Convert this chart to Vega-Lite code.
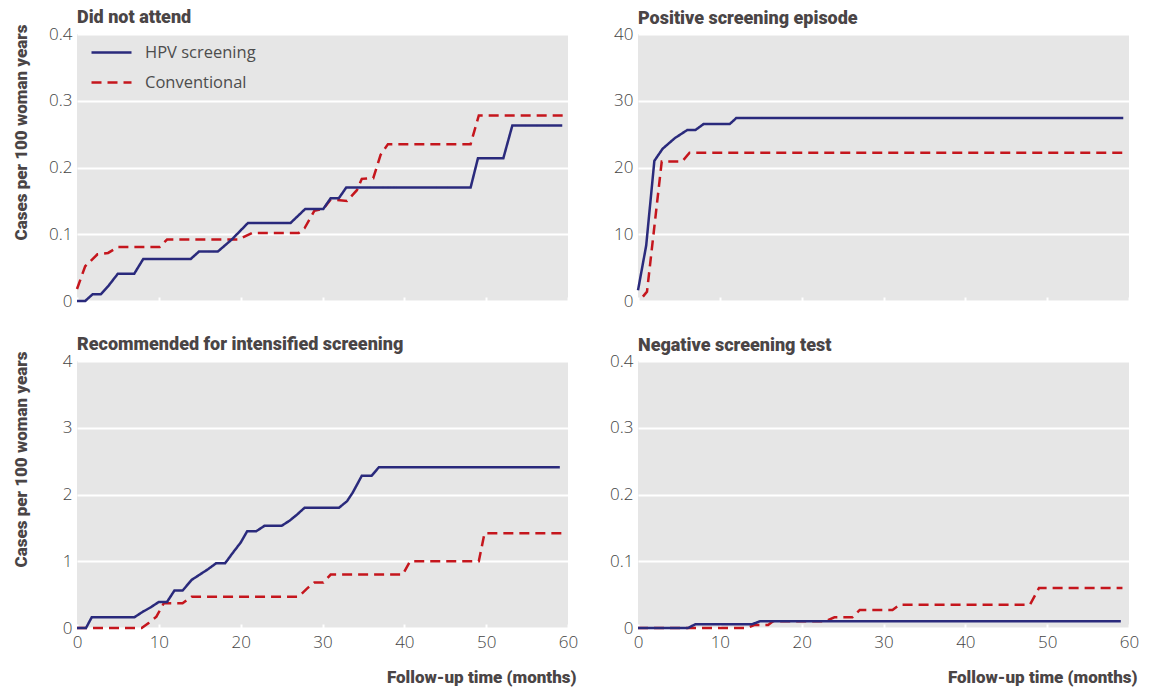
{
  "$schema": "https://vega.github.io/schema/vega-lite/v6.json",
  "padding": {"left": 12, "top": 9, "right": 5, "bottom": 2},
  "background": "white",
  "datasets": {
    "d": [
      {"panel":"dna","group":"Conventional","month":0,"value":0.018},
      {"panel":"dna","group":"Conventional","month":1,"value":0.052},
      {"panel":"dna","group":"Conventional","month":2.5,"value":0.07},
      {"panel":"dna","group":"Conventional","month":3.8,"value":0.072},
      {"panel":"dna","group":"Conventional","month":5,"value":0.081},
      {"panel":"dna","group":"Conventional","month":10.1,"value":0.081},
      {"panel":"dna","group":"Conventional","month":11,"value":0.092},
      {"panel":"dna","group":"Conventional","month":19.7,"value":0.092},
      {"panel":"dna","group":"Conventional","month":21.4,"value":0.102},
      {"panel":"dna","group":"Conventional","month":27.1,"value":0.102},
      {"panel":"dna","group":"Conventional","month":27.8,"value":0.109},
      {"panel":"dna","group":"Conventional","month":29,"value":0.135},
      {"panel":"dna","group":"Conventional","month":30.1,"value":0.138},
      {"panel":"dna","group":"Conventional","month":31,"value":0.152},
      {"panel":"dna","group":"Conventional","month":33,"value":0.15},
      {"panel":"dna","group":"Conventional","month":34.2,"value":0.166},
      {"panel":"dna","group":"Conventional","month":34.8,"value":0.183},
      {"panel":"dna","group":"Conventional","month":36.2,"value":0.184},
      {"panel":"dna","group":"Conventional","month":37.1,"value":0.219},
      {"panel":"dna","group":"Conventional","month":38,"value":0.235},
      {"panel":"dna","group":"Conventional","month":48.1,"value":0.235},
      {"panel":"dna","group":"Conventional","month":49.1,"value":0.278},
      {"panel":"dna","group":"Conventional","month":59.4,"value":0.278},
      {"panel":"dna","group":"HPV screening","month":0,"value":0},
      {"panel":"dna","group":"HPV screening","month":1,"value":0},
      {"panel":"dna","group":"HPV screening","month":1.9,"value":0.01},
      {"panel":"dna","group":"HPV screening","month":2.9,"value":0.01},
      {"panel":"dna","group":"HPV screening","month":3.8,"value":0.022},
      {"panel":"dna","group":"HPV screening","month":5,"value":0.041},
      {"panel":"dna","group":"HPV screening","month":7,"value":0.041},
      {"panel":"dna","group":"HPV screening","month":8.1,"value":0.063},
      {"panel":"dna","group":"HPV screening","month":13.9,"value":0.063},
      {"panel":"dna","group":"HPV screening","month":14.9,"value":0.074},
      {"panel":"dna","group":"HPV screening","month":17.2,"value":0.074},
      {"panel":"dna","group":"HPV screening","month":18.9,"value":0.092},
      {"panel":"dna","group":"HPV screening","month":20.9,"value":0.117},
      {"panel":"dna","group":"HPV screening","month":26.1,"value":0.117},
      {"panel":"dna","group":"HPV screening","month":27.9,"value":0.138},
      {"panel":"dna","group":"HPV screening","month":30.1,"value":0.138},
      {"panel":"dna","group":"HPV screening","month":31,"value":0.154},
      {"panel":"dna","group":"HPV screening","month":32,"value":0.154},
      {"panel":"dna","group":"HPV screening","month":32.9,"value":0.17},
      {"panel":"dna","group":"HPV screening","month":48.1,"value":0.17},
      {"panel":"dna","group":"HPV screening","month":49,"value":0.214},
      {"panel":"dna","group":"HPV screening","month":52.1,"value":0.214},
      {"panel":"dna","group":"HPV screening","month":53.2,"value":0.263},
      {"panel":"dna","group":"HPV screening","month":59.3,"value":0.263},

      {"panel":"pos","group":"Conventional","month":0.6,"value":0.65},
      {"panel":"pos","group":"Conventional","month":1.1,"value":1.4},
      {"panel":"pos","group":"Conventional","month":2.9,"value":20.9},
      {"panel":"pos","group":"Conventional","month":5.4,"value":20.9},
      {"panel":"pos","group":"Conventional","month":6.3,"value":22.2},
      {"panel":"pos","group":"Conventional","month":59.3,"value":22.2},
      {"panel":"pos","group":"HPV screening","month":0,"value":1.6},
      {"panel":"pos","group":"HPV screening","month":1,"value":8.3},
      {"panel":"pos","group":"HPV screening","month":2,"value":21},
      {"panel":"pos","group":"HPV screening","month":3,"value":22.8},
      {"panel":"pos","group":"HPV screening","month":4.5,"value":24.4},
      {"panel":"pos","group":"HPV screening","month":6,"value":25.6},
      {"panel":"pos","group":"HPV screening","month":7,"value":25.6},
      {"panel":"pos","group":"HPV screening","month":8,"value":26.5},
      {"panel":"pos","group":"HPV screening","month":11.2,"value":26.5},
      {"panel":"pos","group":"HPV screening","month":12,"value":27.4},
      {"panel":"pos","group":"HPV screening","month":59.3,"value":27.4},

      {"panel":"int","group":"Conventional","month":0,"value":0},
      {"panel":"int","group":"Conventional","month":7.9,"value":0},
      {"panel":"int","group":"Conventional","month":8.8,"value":0.08},
      {"panel":"int","group":"Conventional","month":9.7,"value":0.17},
      {"panel":"int","group":"Conventional","month":10.6,"value":0.37},
      {"panel":"int","group":"Conventional","month":12.9,"value":0.37},
      {"panel":"int","group":"Conventional","month":14,"value":0.47},
      {"panel":"int","group":"Conventional","month":27.1,"value":0.47},
      {"panel":"int","group":"Conventional","month":28.1,"value":0.59},
      {"panel":"int","group":"Conventional","month":29,"value":0.68},
      {"panel":"int","group":"Conventional","month":30.1,"value":0.68},
      {"panel":"int","group":"Conventional","month":31,"value":0.8},
      {"panel":"int","group":"Conventional","month":39.8,"value":0.8},
      {"panel":"int","group":"Conventional","month":40.7,"value":1.0},
      {"panel":"int","group":"Conventional","month":49.1,"value":1.0},
      {"panel":"int","group":"Conventional","month":49.8,"value":1.42},
      {"panel":"int","group":"Conventional","month":59.4,"value":1.42},
      {"panel":"int","group":"HPV screening","month":0,"value":0},
      {"panel":"int","group":"HPV screening","month":1.1,"value":0},
      {"panel":"int","group":"HPV screening","month":1.8,"value":0.16},
      {"panel":"int","group":"HPV screening","month":7,"value":0.16},
      {"panel":"int","group":"HPV screening","month":8,"value":0.24},
      {"panel":"int","group":"HPV screening","month":9,"value":0.31},
      {"panel":"int","group":"HPV screening","month":10,"value":0.39},
      {"panel":"int","group":"HPV screening","month":11,"value":0.39},
      {"panel":"int","group":"HPV screening","month":11.9,"value":0.56},
      {"panel":"int","group":"HPV screening","month":12.9,"value":0.56},
      {"panel":"int","group":"HPV screening","month":14,"value":0.72},
      {"panel":"int","group":"HPV screening","month":15,"value":0.8},
      {"panel":"int","group":"HPV screening","month":16,"value":0.88},
      {"panel":"int","group":"HPV screening","month":17,"value":0.97},
      {"panel":"int","group":"HPV screening","month":18.1,"value":0.97},
      {"panel":"int","group":"HPV screening","month":19,"value":1.12},
      {"panel":"int","group":"HPV screening","month":20,"value":1.28},
      {"panel":"int","group":"HPV screening","month":20.8,"value":1.45},
      {"panel":"int","group":"HPV screening","month":21.9,"value":1.45},
      {"panel":"int","group":"HPV screening","month":22.9,"value":1.53},
      {"panel":"int","group":"HPV screening","month":25,"value":1.53},
      {"panel":"int","group":"HPV screening","month":26,"value":1.61},
      {"panel":"int","group":"HPV screening","month":26.9,"value":1.7},
      {"panel":"int","group":"HPV screening","month":27.8,"value":1.8},
      {"panel":"int","group":"HPV screening","month":32,"value":1.8},
      {"panel":"int","group":"HPV screening","month":33,"value":1.9},
      {"panel":"int","group":"HPV screening","month":33.7,"value":2.03},
      {"panel":"int","group":"HPV screening","month":34.8,"value":2.28},
      {"panel":"int","group":"HPV screening","month":36,"value":2.28},
      {"panel":"int","group":"HPV screening","month":36.9,"value":2.41},
      {"panel":"int","group":"HPV screening","month":59,"value":2.41},

      {"panel":"neg","group":"Conventional","month":0,"value":0},
      {"panel":"neg","group":"Conventional","month":13.3,"value":0},
      {"panel":"neg","group":"Conventional","month":14.2,"value":0.0045},
      {"panel":"neg","group":"Conventional","month":15.9,"value":0.0045},
      {"panel":"neg","group":"Conventional","month":16.5,"value":0.01},
      {"panel":"neg","group":"Conventional","month":22.9,"value":0.01},
      {"panel":"neg","group":"Conventional","month":24,"value":0.016},
      {"panel":"neg","group":"Conventional","month":26.2,"value":0.016},
      {"panel":"neg","group":"Conventional","month":27.1,"value":0.027},
      {"panel":"neg","group":"Conventional","month":31.1,"value":0.027},
      {"panel":"neg","group":"Conventional","month":32,"value":0.035},
      {"panel":"neg","group":"Conventional","month":47.9,"value":0.035},
      {"panel":"neg","group":"Conventional","month":49,"value":0.06},
      {"panel":"neg","group":"Conventional","month":59.2,"value":0.06},
      {"panel":"neg","group":"HPV screening","month":0,"value":0},
      {"panel":"neg","group":"HPV screening","month":6.1,"value":0},
      {"panel":"neg","group":"HPV screening","month":7,"value":0.0055},
      {"panel":"neg","group":"HPV screening","month":13.9,"value":0.0055},
      {"panel":"neg","group":"HPV screening","month":14.9,"value":0.01},
      {"panel":"neg","group":"HPV screening","month":59,"value":0.01}
    ]
  },
  "data": {"name": "d"},
  "columns": 2,
  "bounds": "flush",
  "spacing": {"row": 60, "column": 70},
  "resolve": {"legend": {"color": "independent", "strokeDash": "independent"}},
  "config": {
    "view": {"fill": "#e6e6e6", "stroke": null},
    "title": {"anchor": "start", "frame": "group", "font": "Roboto", "fontSize": 18, "fontWeight": 900, "color": "#4a4546", "baseline": "alphabetic", "offset": -3},
    "axis": {"domain": false, "labelFont": "Open Sans", "labelFontSize": 17, "labelFontWeight": 300, "labelColor": "#444444", "titleFont": "Roboto", "titleFontSize": 17, "titleFontWeight": 900, "titleColor": "#4a4546"},
    "axisY": {"grid": true, "gridColor": "#ffffff", "gridWidth": 2, "ticks": false, "tickSize": 0, "labelPadding": 5},
    "axisX": {"grid": false, "ticks": true, "tickColor": "#ffffff", "tickSize": -4, "tickWidth": 2, "labelPadding": 10, "labelFlush": false},
    "line": {"strokeWidth": 2.5}
  },
  "concat": [
    {
      "title": "Did not attend",
      "width": 491, "height": 267,
      "transform": [{"filter": "datum.panel === 'dna'"}],
      "mark": {"type": "line"},
      "encoding": {
        "x": {"field": "month", "type": "quantitative", "scale": {"domain": [0, 60]}, "axis": {"values": [0,10,20,30,40,50,60], "labels": false, "title": null}},
        "y": {"field": "value", "type": "quantitative", "scale": {"domain": [0, 0.4]}, "axis": {"values": [0,0.1,0.2,0.3,0.4], "labelExpr": "datum.value === 0 ? '0' : format(datum.value, '.1f')", "title": "Cases per 100 woman years", "titleAngle": 270, "titleX": -64, "titleY": -10, "titleAlign": "right", "titleBaseline": "top"}},
        "color": {"field": "group", "type": "nominal", "scale": {"domain": ["HPV screening", "Conventional"], "range": ["#2a2a7c", "#c5161d"]},
          "legend": {"title": null, "orient": "none", "legendX": 13, "legendY": -3, "symbolType": "stroke", "symbolSize": 1600, "symbolStrokeWidth": 2.5, "rowPadding": -13, "labelOffset": 12, "labelFont": "Open Sans", "labelFontSize": 16.5, "labelFontWeight": 400, "labelColor": "#4d4d4d", "padding": 0}},
        "strokeDash": {"field": "group", "type": "nominal", "scale": {"domain": ["HPV screening", "Conventional"], "range": [[1, 0], [10, 6]]},
          "legend": {"title": null, "orient": "none", "legendX": 13, "legendY": -3, "symbolType": "stroke", "symbolSize": 1600, "symbolStrokeWidth": 2.5, "rowPadding": -13, "labelOffset": 12, "labelFont": "Open Sans", "labelFontSize": 16.5, "labelFontWeight": 400, "labelColor": "#4d4d4d", "padding": 0}}
      }
    },
    {
      "title": "Positive screening episode",
      "width": 491, "height": 267,
      "transform": [{"filter": "datum.panel === 'pos'"}],
      "mark": {"type": "line"},
      "encoding": {
        "x": {"field": "month", "type": "quantitative", "scale": {"domain": [0, 60]}, "axis": {"values": [0,10,20,30,40,50,60], "labels": false, "title": null}},
        "y": {"field": "value", "type": "quantitative", "scale": {"domain": [0, 40]}, "axis": {"values": [0,10,20,30,40], "title": null}},
        "color": {"field": "group", "type": "nominal", "scale": {"domain": ["HPV screening", "Conventional"], "range": ["#2a2a7c", "#c5161d"]}, "legend": null},
        "strokeDash": {"field": "group", "type": "nominal", "scale": {"domain": ["HPV screening", "Conventional"], "range": [[1, 0], [10, 6]]}, "legend": null}
      }
    },
    {
      "title": "Recommended for intensified screening",
      "width": 491, "height": 267,
      "transform": [{"filter": "datum.panel === 'int'"}],
      "mark": {"type": "line"},
      "encoding": {
        "x": {"field": "month", "type": "quantitative", "scale": {"domain": [0, 60]}, "axis": {"values": [0,10,20,30,40,50,60], "title": "Follow-up time (months)", "titleAnchor": "end", "titleAlign": "right", "titleX": 499, "titleY": 54, "titleBaseline": "alphabetic"}},
        "y": {"field": "value", "type": "quantitative", "scale": {"domain": [0, 4]}, "axis": {"values": [0,1,2,3,4], "title": "Cases per 100 woman years", "titleAngle": 270, "titleX": -64, "titleY": -10, "titleAlign": "right", "titleBaseline": "top"}},
        "color": {"field": "group", "type": "nominal", "scale": {"domain": ["HPV screening", "Conventional"], "range": ["#2a2a7c", "#c5161d"]}, "legend": null},
        "strokeDash": {"field": "group", "type": "nominal", "scale": {"domain": ["HPV screening", "Conventional"], "range": [[1, 0], [10, 6]]}, "legend": null}
      }
    },
    {
      "title": "Negative screening test",
      "width": 491, "height": 267,
      "transform": [{"filter": "datum.panel === 'neg'"}],
      "mark": {"type": "line"},
      "encoding": {
        "x": {"field": "month", "type": "quantitative", "scale": {"domain": [0, 60]}, "axis": {"values": [0,10,20,30,40,50,60], "title": "Follow-up time (months)", "titleAnchor": "end", "titleAlign": "right", "titleX": 499, "titleY": 54, "titleBaseline": "alphabetic"}},
        "y": {"field": "value", "type": "quantitative", "scale": {"domain": [0, 0.4]}, "axis": {"values": [0,0.1,0.2,0.3,0.4], "labelExpr": "datum.value === 0 ? '0' : format(datum.value, '.1f')", "title": null}},
        "color": {"field": "group", "type": "nominal", "scale": {"domain": ["HPV screening", "Conventional"], "range": ["#2a2a7c", "#c5161d"]}, "legend": null},
        "strokeDash": {"field": "group", "type": "nominal", "scale": {"domain": ["HPV screening", "Conventional"], "range": [[1, 0], [10, 6]]}, "legend": null}
      }
    }
  ]
}
